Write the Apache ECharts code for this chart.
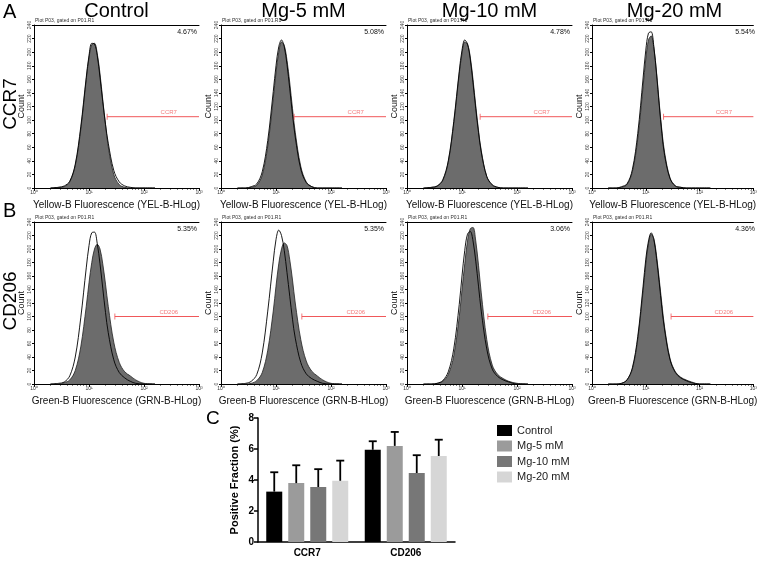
<!DOCTYPE html>
<html>
<head>
<meta charset="utf-8">
<script src="https://cdn.jsdelivr.net/npm/echarts@6/dist/echarts.min.js"></script>
<style>
  html, body { margin: 0; padding: 0; background: #fff; }
  #chart { width: 760px; height: 566px; }
</style>
</head>
<body>
<div id="chart"></div>
<script>
// groups / markers
const groups = ['Control', 'Mg-5 mM', 'Mg-10 mM', 'Mg-20 mM']
const markers = ['CCR7', 'CD206']
const axisTitles = ['Yellow-B Fluorescence (YEL-B-HLog)', 'Green-B Fluorescence (GRN-B-HLog)']
const decadeLabels = { 1: '10⁰', 10: '10¹', 100: '10²', 1000: '10³' }

// histogram x positions (log10 of fluorescence)
const logX = [0.3, 0.45, 0.55, 0.65, 0.75, 0.85, 0.95, 1.0, 1.05, 1.1, 1.15, 1.2, 1.25, 1.3, 1.35, 1.45, 1.55, 1.65, 1.75, 1.85, 2.0, 2.2]

// CCR7 row: filled (stained) and outline (control) counts per group
const ccr7Filled = [
  [0, 1, 2, 9, 33, 86, 160, 192, 211, 213, 198, 168, 130, 93, 61, 20, 5, 1, 0, 0, 0, 0],
  [0, 0, 1, 4, 19, 62, 132, 170, 200, 215, 210, 188, 155, 117, 82, 32, 9, 2, 0, 0, 0, 0],
  [0, 1, 3, 11, 38, 95, 168, 198, 215, 212, 193, 160, 121, 85, 55, 17, 4, 1, 0, 0, 0, 0],
  [0, 0, 1, 5, 24, 72, 150, 190, 218, 224, 206, 170, 125, 84, 52, 15, 3, 1, 0, 0, 0, 0]
]
const ccr7Outline = [
  [0, 1, 3, 10, 35, 90, 163, 195, 213, 212, 195, 163, 127, 94, 66, 26, 9, 3, 1, 0, 0, 0],
  [0, 0, 2, 6, 24, 70, 142, 180, 208, 218, 208, 182, 146, 108, 75, 28, 8, 2, 0, 0, 0, 0],
  [0, 1, 3, 12, 40, 98, 172, 203, 218, 212, 190, 155, 117, 82, 53, 17, 5, 1, 0, 0, 0, 0],
  [0, 0, 2, 6, 27, 80, 162, 203, 228, 230, 208, 168, 122, 80, 48, 14, 3, 1, 0, 0, 0, 0]
]
// CD206 row
const cd206Filled = [
  [0, 0, 2, 6, 20, 55, 115, 150, 180, 200, 207, 200, 178, 148, 115, 62, 32, 18, 12, 6, 1, 0],
  [0, 0, 1, 5, 17, 50, 108, 145, 178, 200, 209, 205, 184, 154, 120, 66, 34, 19, 12, 6, 1, 0],
  [0, 0, 1, 4, 14, 42, 100, 140, 178, 212, 230, 232, 212, 176, 135, 66, 28, 14, 8, 4, 1, 0],
  [0, 0, 1, 6, 22, 66, 138, 178, 208, 222, 215, 190, 155, 118, 84, 38, 18, 10, 6, 3, 0, 0]
]
const cd206Outline = [
  [0, 1, 3, 12, 40, 98, 172, 205, 224, 225, 208, 178, 142, 106, 76, 36, 17, 9, 4, 1, 0, 0],
  [0, 1, 4, 14, 46, 108, 182, 214, 228, 220, 198, 165, 130, 96, 68, 32, 15, 8, 4, 1, 0, 0],
  [0, 0, 1, 5, 18, 52, 118, 160, 198, 222, 226, 212, 182, 145, 108, 52, 22, 11, 6, 3, 0, 0],
  [0, 0, 1, 6, 24, 70, 145, 185, 212, 224, 214, 186, 150, 112, 80, 36, 17, 9, 5, 2, 0, 0]
]
const ccr7Pct = ['4.67%', '5.08%', '4.78%', '5.54%']
const cd206Pct = ['5.35%', '5.35%', '3.06%', '4.36%']

// gate R: start (log10) and height (count), label position
const gateStart = [1.33, 1.47]
const gateLevel = [105, 100]
const gateLabelX = 2.45

// panel C bar data
const barMeans = [[3.25, 5.95], [3.8, 6.2], [3.55, 4.45], [3.95, 5.55]]
const barSD = [[1.25, 0.55], [1.15, 0.9], [1.15, 1.15], [1.3, 1.05]]
const barColors = ['#000000', '#9b9b9b', '#777777', '#d6d6d6']

// layout
const FONT = 'Liberation Sans, Arial, sans-serif'
const hLeft = [34, 221, 407, 592]
const hWidth = 165
const hTop = [25, 222]
const hHeight = [163, 162]
const GATE_RED = '#f0585a'

const chart = echarts.init(document.getElementById('chart'))

const grids = []
const xAxes = []
const yAxes = []
const series = []
const graphics = []

const filledRows = [ccr7Filled, cd206Filled]
const outlineRows = [ccr7Outline, cd206Outline]
const pctRows = [ccr7Pct, cd206Pct]

for (let r = 0; r < 2; r++) {
  for (let c = 0; c < 4; c++) {
    const g = grids.length
    grids.push({ left: hLeft[c], top: hTop[r], width: hWidth, height: hHeight[r] })

    // data axis (hidden) in log10 units
    const xi = xAxes.length
    xAxes.push({
      gridIndex: g, type: 'value', min: 0, max: 3, position: 'bottom',
      show: false
    })
    // visible log axis for ticks / labels
    xAxes.push({
      gridIndex: g, type: 'log', logBase: 10, min: 1, max: 1000, position: 'bottom',
      axisLine: { onZero: false, lineStyle: { color: '#000', width: 1 } },
      axisTick: { length: 3, lineStyle: { color: '#000' } },
      minorTick: { show: true, splitNumber: 9, length: 1.5, lineStyle: { color: '#000' } },
      axisLabel: { fontSize: 5, color: '#333', margin: 2, fontFamily: FONT, formatter: v => decadeLabels[v] || '' },
      splitLine: { show: false },
      name: axisTitles[r], nameLocation: 'middle', nameGap: 12,
      nameTextStyle: { fontSize: 10, color: '#111', fontFamily: FONT }
    })
    // top frame line
    xAxes.push({
      gridIndex: g, type: 'value', min: 0, max: 3, position: 'top',
      axisLine: { show: true, onZero: false, lineStyle: { color: '#000', width: 1 } },
      axisTick: { show: false }, axisLabel: { show: false }, splitLine: { show: false }
    })

    const yi = yAxes.length
    yAxes.push({
      gridIndex: g, type: 'value', min: 0, max: 240, interval: 20,
      axisLine: { show: true, lineStyle: { color: '#000', width: 1 } },
      axisTick: { show: true, length: 2, lineStyle: { color: '#000' } },
      axisLabel: { fontSize: 5, color: '#444', rotate: 90, margin: 2, fontFamily: FONT },
      splitLine: { show: false },
      name: 'Count', nameLocation: 'middle', nameGap: 8,
      nameTextStyle: { fontSize: 9, color: '#111', fontFamily: FONT, verticalAlign: 'bottom' }
    })

    series.push({
      type: 'line', xAxisIndex: xi, yAxisIndex: yi,
      data: logX.map((x, i) => [x, filledRows[r][c][i]]),
      smooth: 0.35, symbol: 'none', silent: true,
      lineStyle: { color: '#222', width: 0.8 },
      areaStyle: { color: '#6c6c6c', opacity: 1 },
      z: 2
    })
    series.push({
      type: 'line', xAxisIndex: xi, yAxisIndex: yi,
      data: logX.map((x, i) => [x, outlineRows[r][c][i]]),
      smooth: 0.35, symbol: 'none', silent: true,
      lineStyle: { color: '#000', width: 0.9 },
      z: 3
    })
    // gate
    series.push({
      type: 'line', xAxisIndex: xi, yAxisIndex: yi,
      data: [[gateStart[r], gateLevel[r]], [3, gateLevel[r]]],
      symbol: 'none', silent: true,
      lineStyle: { color: GATE_RED, width: 1 },
      z: 4
    })
    series.push({
      type: 'scatter', xAxisIndex: xi, yAxisIndex: yi, silent: true, z: 4,
      data: [
        { value: [gateStart[r], gateLevel[r]], symbol: 'rect', symbolSize: [1, 6] },
        {
          value: [gateLabelX, gateLevel[r]], symbolSize: 0,
          label: { show: true, position: 'top', distance: 1, formatter: markers[r], fontSize: 6, color: GATE_RED, fontFamily: FONT }
        }
      ],
      itemStyle: { color: GATE_RED }
    })

    graphics.push({
      type: 'text', left: hLeft[c] + 1, top: hTop[r] - 7,
      style: { text: 'Plot P03, gated on P01.R1', fontSize: 5, fill: '#333', fontFamily: FONT }
    })
    graphics.push({
      type: 'text', x: hLeft[c] + hWidth - 2, y: hTop[r] + 7,
      style: { text: pctRows[r][c], fontSize: 7, fill: '#111', fontFamily: FONT, textAlign: 'right', textVerticalAlign: 'middle' }
    })
    if (r === 0) {
      graphics.push({
        type: 'text', x: hLeft[c] + hWidth / 2, y: 11,
        style: { text: groups[c], fontSize: 20, fill: '#000', fontFamily: FONT, textAlign: 'center', textVerticalAlign: 'middle' }
      })
    }
  }
}

// panel labels and row labels
graphics.push(
  { type: 'text', x: 3, y: 12, style: { text: 'A', fontSize: 20, fill: '#000', fontFamily: FONT, textVerticalAlign: 'middle' } },
  { type: 'text', x: 3, y: 211, style: { text: 'B', fontSize: 20, fill: '#000', fontFamily: FONT, textVerticalAlign: 'middle' } },
  { type: 'text', x: 206, y: 419, style: { text: 'C', fontSize: 19, fill: '#000', fontFamily: FONT, textVerticalAlign: 'middle' } },
  { type: 'text', x: 11, y: 104, rotation: Math.PI / 2, style: { text: markers[0], fontSize: 19, fill: '#000', fontFamily: FONT, textAlign: 'center', textVerticalAlign: 'middle' } },
  { type: 'text', x: 11, y: 301, rotation: Math.PI / 2, style: { text: markers[1], fontSize: 19, fill: '#000', fontFamily: FONT, textAlign: 'center', textVerticalAlign: 'middle' } }
)

// panel C
const barGrid = grids.length
grids.push({ left: 258, top: 418, width: 197, height: 124 })
const bxi = xAxes.length
xAxes.push({
  gridIndex: barGrid, type: 'category', data: markers,
  axisLine: { lineStyle: { color: '#000', width: 1.5 } },
  axisTick: { show: false },
  axisLabel: { fontSize: 10, fontWeight: 'bold', color: '#000', margin: 6, fontFamily: FONT }
})
const byi = yAxes.length
yAxes.push({
  gridIndex: barGrid, type: 'value', min: 0, max: 8, interval: 2,
  axisLine: { show: true, lineStyle: { color: '#000', width: 1.5 } },
  axisTick: { show: true, length: 4, lineStyle: { color: '#000', width: 1.5 } },
  axisLabel: { fontSize: 10, fontWeight: 'bold', color: '#000', margin: 4, fontFamily: FONT },
  splitLine: { show: false },
  name: 'Positive Fraction (%)', nameLocation: 'middle', nameGap: 18,
  nameTextStyle: { fontSize: 11, fontWeight: 'bold', color: '#000', fontFamily: FONT }
})

const BAR_W = 16
const BAR_STEP = 22
groups.forEach((name, gi) => {
  series.push({
    name, type: 'bar', xAxisIndex: bxi, yAxisIndex: byi,
    data: barMeans[gi], barWidth: BAR_W, barGap: '37.5%',
    itemStyle: { color: barColors[gi] }, silent: true
  })
})
groups.forEach((name, gi) => {
  series.push({
    name: name + ' SD', type: 'custom', xAxisIndex: bxi, yAxisIndex: byi, silent: true, z: 5,
    data: barMeans[gi].map((m, ci) => [ci, m, m + barSD[gi][ci]]),
    renderItem: (params, api) => {
      const base = api.coord([api.value(0), api.value(1)])
      const top = api.coord([api.value(0), api.value(2)])
      const x = base[0] + (gi - 1.5) * BAR_STEP
      const style = { stroke: '#000', lineWidth: 1.8 }
      return {
        type: 'group',
        children: [
          { type: 'line', shape: { x1: x, y1: base[1], x2: x, y2: top[1] }, style },
          { type: 'line', shape: { x1: x - 4, y1: top[1], x2: x + 4, y2: top[1] }, style }
        ]
      }
    }
  })
})

const option = {
  animation: false,
  backgroundColor: '#fff',
  textStyle: { fontFamily: FONT },
  grid: grids,
  xAxis: xAxes,
  yAxis: yAxes,
  legend: {
    data: groups, orient: 'vertical', left: 492, top: 420,
    itemWidth: 15, itemHeight: 11, itemGap: 4.5, icon: 'rect',
    textStyle: { fontSize: 11, color: '#222', fontFamily: FONT }
  },
  graphic: graphics,
  series
}
chart.setOption(option)
</script>
</body>
</html>
